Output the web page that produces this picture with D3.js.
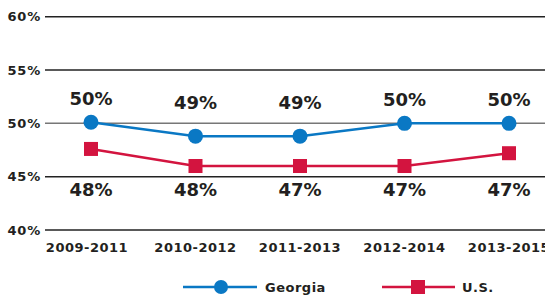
<!DOCTYPE html>
<html lang="en">
<head>
    <meta charset="UTF-8">
    <title>Georgia vs U.S.</title>
    <script src="https://d3js.org/d3.v7.min.js"></script>
    <style>
        body {
            margin: 0;
            background-color: #ffffff;
            font-family: "DejaVu Sans", sans-serif;
        }
        svg {
            display: block;
        }
    </style>
</head>
<body>
    <div id="chart"></div>
    <script>
        const periods = ["2009-2011", "2010-2012", "2011-2013", "2012-2014", "2013-2015"];
        const georgia = [50.1, 48.8, 48.8, 50.0, 50.0];
        const us = [47.6, 46.0, 46.0, 46.0, 47.2];
        const georgiaLabels = ["50%", "49%", "49%", "50%", "50%"];
        const usLabels = ["48%", "48%", "47%", "47%", "47%"];
        const yTicks = [40, 45, 50, 55, 60];

        const width = 545, height = 296;
        const blue = "#0a78c4", red = "#d3143f", ink = "#231f20";

        const svg = d3.select("#chart").append("svg")
            .attr("width", width)
            .attr("height", height);

        const x = d3.scalePoint().domain(periods).range([91, 509]);
        const y = d3.scaleLinear().domain([40, 60]).range([230, 16.7]);

        // gridlines + y labels
        svg.append("g").selectAll("line")
            .data(yTicks)
            .enter().append("line")
            .attr("x1", 45).attr("x2", width)
            .attr("y1", d => y(d)).attr("y2", d => y(d))
            .attr("stroke", d => d === 50 ? "#777" : "#222")
            .attr("stroke-width", 1.5);

        svg.append("g").selectAll("text")
            .data(yTicks)
            .enter().append("text")
            .attr("x", 41)
            .attr("y", d => y(d) + 4.5)
            .attr("text-anchor", "end")
            .attr("font-size", 13)
            .attr("font-weight", "bold")
            .attr("letter-spacing", 0.8)
            .attr("fill", ink)
            .text(d => d + "%");

        // x labels
        svg.append("g").selectAll("text")
            .data(periods)
            .enter().append("text")
            .attr("x", (d, i) => x(d) - (i === 0 ? 4 : 0))
            .attr("y", 251.5)
            .attr("text-anchor", "middle")
            .attr("font-size", 13)
            .attr("font-weight", "bold")
            .attr("letter-spacing", 0.5)
            .attr("fill", ink)
            .text(d => d);

        const line = d3.line()
            .x((d, i) => x(periods[i]))
            .y(d => y(d));

        // U.S. series
        svg.append("path")
            .datum(us)
            .attr("d", line)
            .attr("fill", "none")
            .attr("stroke", red)
            .attr("stroke-width", 2.5);

        svg.append("g").selectAll("rect")
            .data(us)
            .enter().append("rect")
            .attr("x", (d, i) => x(periods[i]) - 7)
            .attr("y", d => y(d) - 7)
            .attr("width", 14).attr("height", 14)
            .attr("fill", red);

        // Georgia series
        svg.append("path")
            .datum(georgia)
            .attr("d", line)
            .attr("fill", "none")
            .attr("stroke", blue)
            .attr("stroke-width", 2.5);

        svg.append("g").selectAll("circle")
            .data(georgia)
            .enter().append("circle")
            .attr("cx", (d, i) => x(periods[i]))
            .attr("cy", d => y(d))
            .attr("r", 7.5)
            .attr("fill", blue);

        // value labels (Georgia labels float above, only loosely following the line)
        svg.append("g").selectAll("text")
            .data(georgia)
            .enter().append("text")
            .attr("x", (d, i) => x(periods[i]))
            .attr("y", d => y(d) * 0.3 + 68.5)
            .attr("text-anchor", "middle")
            .attr("font-size", 18)
            .attr("font-weight", "bold")
            .attr("fill", ink)
            .text((d, i) => georgiaLabels[i]);

        svg.append("g").selectAll("text")
            .data(us)
            .enter().append("text")
            .attr("x", (d, i) => x(periods[i]))
            .attr("y", y(44) + 8.5)
            .attr("text-anchor", "middle")
            .attr("font-size", 18)
            .attr("font-weight", "bold")
            .attr("fill", ink)
            .text((d, i) => usLabels[i]);

        // legend
        const legY = 287;
        const leg = svg.append("g");
        leg.append("line").attr("x1", 183).attr("x2", 257).attr("y1", legY).attr("y2", legY)
            .attr("stroke", blue).attr("stroke-width", 2.5);
        leg.append("circle").attr("cx", 221).attr("cy", legY).attr("r", 7).attr("fill", blue);
        leg.append("text").attr("x", 265).attr("y", legY + 4.5)
            .attr("font-size", 13).attr("font-weight", "bold").attr("fill", ink)
            .attr("letter-spacing", 0.5)
            .text("Georgia");

        leg.append("line").attr("x1", 382).attr("x2", 455).attr("y1", legY).attr("y2", legY)
            .attr("stroke", red).attr("stroke-width", 2.5);
        leg.append("rect").attr("x", 411).attr("y", legY - 7).attr("width", 14).attr("height", 14).attr("fill", red);
        leg.append("text").attr("x", 462).attr("y", legY + 4.5)
            .attr("font-size", 13).attr("font-weight", "bold").attr("fill", ink)
            .attr("letter-spacing", 0.5)
            .text("U.S.");
    </script>
</body>
</html>
